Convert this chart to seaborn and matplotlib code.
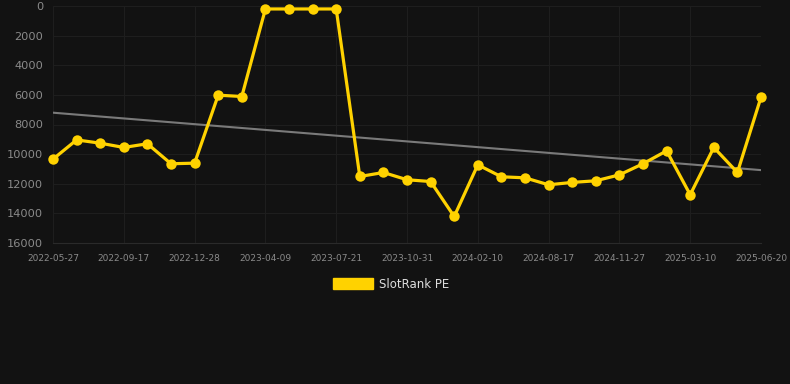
import matplotlib
matplotlib.use("Agg")
import matplotlib.pyplot as plt
import matplotlib.patches as mpatches
import numpy as np
import pandas as pd
import seaborn as sns

# rank per snapshot (lower is better, axis is inverted)
rank_values = [
    10340, 9040, 9260, 9550, 9300, 10650, 10610, 6020, 6110, 200,
    200, 200, 200, 11510, 11240, 11730, 11850, 14210, 10720, 11530,
    11600, 12070, 11910, 11800, 11400, 10650, 9780, 12740, 9550, 11240,
    6160,
]
tick_labels = [
    "2022-05-27", "2022-09-17", "2022-12-28", "2023-04-09", "2023-07-21",
    "2023-10-31", "2024-02-10", "2024-08-17", "2024-11-27", "2025-03-10",
    "2025-06-20",
]
series_name = "SlotRank PE"

BG = "#121212"
YELLOW = "#FFD200"

sns.set_theme(style="dark")
plt.rcParams["font.family"] = ["DejaVu Sans"]

df = pd.DataFrame({"idx": np.arange(len(rank_values)), "rank": rank_values})
slope, intercept = np.polyfit(df["idx"], df["rank"], 1)
df["trend"] = slope * df["idx"] + intercept

fig = plt.figure(figsize=(7.9, 3.84), dpi=100, facecolor=BG)
ax = fig.add_axes([53 / 790, 1 - 243 / 384, (761 - 53) / 790, (243 - 6) / 384])
ax.set_facecolor(BG)

sns.lineplot(data=df, x="idx", y="trend", ax=ax, color="#7a7a7a", linewidth=1.5, zorder=2)
sns.lineplot(data=df, x="idx", y="rank", ax=ax, color=YELLOW, linewidth=2.3,
             marker="o", markersize=7.5, markeredgewidth=0, markerfacecolor=YELLOW,
             zorder=3, clip_on=False)

ax.set_xlim(0, len(rank_values) - 1)
ax.set_ylim(16000, 0)
ax.set_yticks(range(0, 16001, 2000))
ax.set_xticks(range(0, len(rank_values), 3))
ax.set_xticklabels(tick_labels)
ax.set_xlabel("")
ax.set_ylabel("")

ax.grid(True, color="#1e1e1e", linewidth=0.8)
for s in ax.spines.values():
    s.set_visible(False)
ax.spines["bottom"].set_visible(True)
ax.spines["bottom"].set_color("#2a2a2a")
ax.spines["bottom"].set_linewidth(0.8)
ax.tick_params(axis="x", colors="#262626", labelcolor="#8a8a8a", labelsize=6.5,
               length=5, width=0.8, pad=3)
ax.tick_params(axis="y", colors="#262626", labelcolor="#8a8a8a", labelsize=8.2,
               length=0, pad=7)

handle = mpatches.Patch(color=YELLOW, label=series_name)
fig.legend(handles=[handle], loc="center", bbox_to_anchor=(0.495, 1 - 284 / 384),
           frameon=False, fontsize=8.5, labelcolor="#dddddd",
           handlelength=3.4, handleheight=1.0, handletextpad=0.5)

fig.savefig("out.png", dpi=100, facecolor=BG)
